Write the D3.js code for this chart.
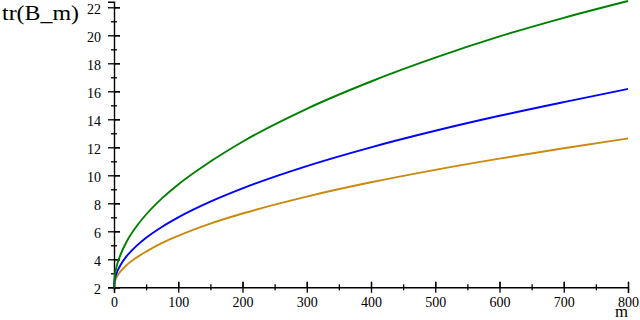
<!DOCTYPE html>
<html>
<head>
<meta charset="utf-8">
<script src="https://cdn.jsdelivr.net/npm/d3@7"></script>
<style>
  body { margin: 0; background: #fff; }
  svg { display: block; }
  text { font-family: "Liberation Serif", "DejaVu Serif", serif; }
</style>
</head>
<body>
<svg width="640" height="320"></svg>
<script>
// values
const mValues = [0, 1, 3, 6, 10, 20, 35, 50, 75, 100, 150, 200, 300, 400, 500, 600, 700, 800];
const greenSeries  = [2, 2.73, 3.27, 3.8, 4.32, 5.29, 6.35, 7.2, 8.37, 9.35, 10.98, 12.4, 14.75, 16.7, 18.4, 19.92, 21.25, 22.45];
const blueSeries   = [2, 2.5, 2.87, 3.22, 3.58, 4.24, 4.96, 5.54, 6.33, 7.0, 8.12, 9.07, 10.66, 12.0, 13.18, 14.25, 15.23, 16.17];
const orangeSeries = [2, 2.36, 2.62, 2.88, 3.13, 3.6, 4.12, 4.55, 5.17, 5.68, 6.55, 7.27, 8.48, 9.5, 10.39, 11.19, 11.93, 12.63];

const xMajorTicks = [0, 100, 200, 300, 400, 500, 600, 700, 800];
const xMinorTicks = [50, 150, 250, 350, 450, 550, 650, 750];
const yMajorTicks = [2, 4, 6, 8, 10, 12, 14, 16, 18, 20, 22];
const yMinorTicks = [3, 5, 7, 9, 11, 13, 15, 17, 19, 21];

const svg = d3.select("svg");

const x = d3.scaleLinear().domain([0, 800]).range([114, 628]);
const y = d3.scaleLinear().domain([2, 22.4]).range([287.3, 1.7]);

function styleAxis(g) {
  g.select(".domain").attr("stroke", "#000").attr("stroke-width", 1.4);
  g.selectAll(".tick line").attr("stroke", "#000").attr("stroke-width", 1.3);
  g.selectAll("text").attr("font-size", "14px").attr("fill", "#000");
}

// ticks cross the axis line: one axis each side, majors and minors
function crossTicks(axisA, axisB, ticks, size, translate) {
  [axisA, axisB].forEach(function (ax) {
    svg.append("g")
      .attr("transform", translate)
      .call(ax.tickValues(ticks).tickSize(size).tickFormat(""))
      .call(styleAxis)
      .call(g => g.select(".domain").remove());
  });
}

const xTrans = "translate(0," + y(2) + ")";
const yTrans = "translate(" + x(0) + ",0)";

svg.append("g")
  .attr("transform", xTrans)
  .call(d3.axisBottom(x).tickValues(xMajorTicks).tickSizeOuter(0).tickSize(5.5).tickPadding(4))
  .call(styleAxis);
crossTicks(d3.axisTop(x), d3.axisTop(x), xMajorTicks, 5.5, xTrans);
crossTicks(d3.axisTop(x), d3.axisBottom(x), xMinorTicks, 3, xTrans);

svg.append("g")
  .attr("transform", yTrans)
  .call(d3.axisLeft(y).tickValues(yMajorTicks).tickSizeOuter(0).tickSize(6).tickPadding(7))
  .call(styleAxis)
  .call(g => g.selectAll("text").attr("dy", "0.45em"));
crossTicks(d3.axisRight(y), d3.axisRight(y), yMajorTicks, 6, yTrans);
crossTicks(d3.axisLeft(y), d3.axisRight(y), yMinorTicks, 3, yTrans);

// curves
const line = d3.line()
  .x(function (d) { return x(d[0]); })
  .y(function (d) { return y(d[1]); })
  .curve(d3.curveMonotoneX);

const series = [
  { values: orangeSeries, color: "#c98a0e" },
  { values: blueSeries, color: "#0000ff" },
  { values: greenSeries, color: "#008000" }
];

svg.append("g")
  .selectAll("path")
  .data(series)
  .enter()
  .append("path")
  .attr("fill", "none")
  .attr("stroke", function (d) { return d.color; })
  .attr("stroke-width", 1.9)
  .attr("d", function (d) {
    return line(mValues.map(function (m, i) { return [m, d.values[i]]; }));
  });

// axis labels
svg.append("text")
  .attr("x", 2)
  .attr("y", 19.5)
  .attr("font-size", "20px")
  .attr("textLength", 77)
  .attr("lengthAdjust", "spacingAndGlyphs")
  .text("tr(B_m)");

svg.append("text")
  .attr("x", 628)
  .attr("y", 317)
  .attr("text-anchor", "end")
  .attr("font-size", "16px")
  .attr("textLength", 13)
  .attr("lengthAdjust", "spacingAndGlyphs")
  .text("m");
</script>
</body>
</html>
